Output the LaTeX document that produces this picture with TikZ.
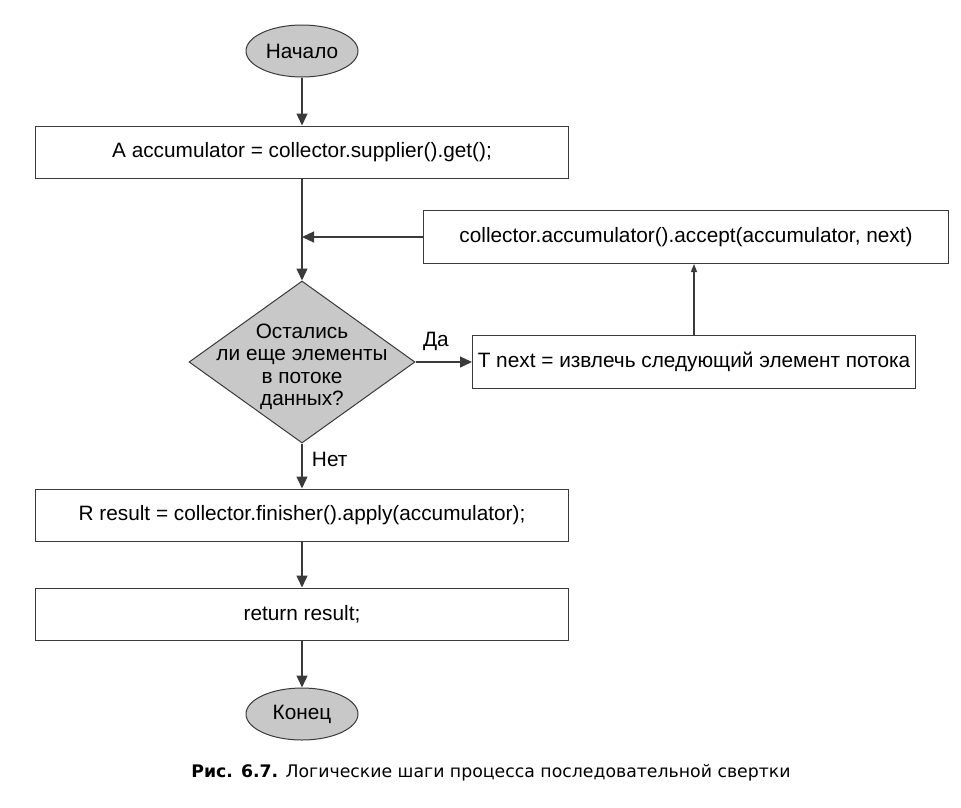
\documentclass[tikz,border=0pt]{standalone}
\usepackage{fontspec}
\setmainfont{Liberation Sans}
\newfontfamily\capfont{DejaVu Sans}
\usetikzlibrary{arrows.meta,shapes.geometric,positioning}
\definecolor{linegray}{HTML}{3A3A3A}
\definecolor{fillgray}{HTML}{C8C8C8}
\tikzset{
     box node/.style={font=\fontsize{20.8}{23}\selectfont},
      stepbox/.style   = {draw=linegray, line width=1pt, rectangle, minimum height=52pt, inner sep=0pt},
      terminal/.style  = {draw=linegray, line width=1pt, ellipse, fill=fillgray, minimum width=112pt, minimum height=52pt, inner sep=0pt},
      decision/.style  = {draw=linegray, line width=1pt, diamond, fill=fillgray, minimum width=226pt, minimum height=162pt, inner sep=0pt},
      flow/.style = { linegray, line width=1.3pt, -{Triangle[width=11pt,length=12pt]}},
      thinflow/.style = { linegray, line width=1.3pt, -{Triangle[width=6pt,length=8pt]}},
      edge label/.style = {text=black, font=\fontsize{20.8}{23}\selectfont},
    }

\begin{document}
\begin{tikzpicture}[x=1pt,y=-1pt,on grid,box node]
        \useasboundingbox (0,0) rectangle (961,807);
        \node [terminal] (start) at (302,51)              {Начало};
        \node [stepbox, minimum width=533pt] (init) [below=101pt of start]  {A accumulator = collector.supplier().get();};
        \node [decision, label={[align=center, yshift=-5pt, font=\fontsize{20.8}{22.5}\selectfont]center:Остались\\ли еще элементы\\в потоке\\данных?}] (check) [below=210pt of init] {};
        \node [stepbox, minimum width=443pt, minimum height=53pt] (next) [right=392pt of check] {T next = извлечь следующий элемент потока};
        \node [stepbox, minimum width=525pt, minimum height=53pt] (acc) [above left=125pt and 8pt of next] {collector.accumulator().accept(accumulator, next)};
        \node [stepbox, minimum width=533pt] (finish) [below=153pt of check] {R result = collector.finisher().apply(accumulator);};
        \node [stepbox, minimum width=533pt] (ret) [below=99pt of finish] {return result;};
        \node [terminal] (stop) [below=100pt of ret] {Конец};
        \coordinate (join) at (init.south |- acc.west);

        \node (caption) at (491,773) {\capfont\fontsize{17.3}{20}\selectfont\textbf{Рис. 6.7.} Логические шаги процесса последовательной свертки};

        \draw [flow] (start) -- (init);
        \draw [flow] (init) -- (check);
        \draw [flow] (acc.west) -- (join);
        \draw [flow] (check.east) -- node [edge label, above, pos=0.36, yshift=7pt] {Да} (next.west);
        \draw [thinflow] (next.north) -- (next.north |- acc.south);
        \draw [flow] (check.south) -- node [edge label, right, pos=0.35, xshift=6pt] {Нет} (finish.north);
        \draw [flow] (finish) -- (ret);
        \draw [flow] (ret) -- (stop);
    \end{tikzpicture}
\end{document}
